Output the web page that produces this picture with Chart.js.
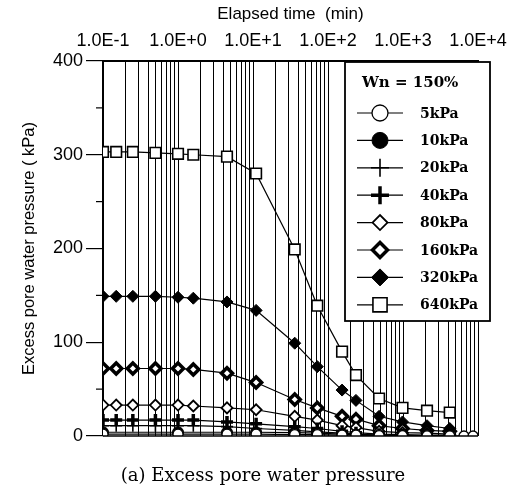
<!DOCTYPE html>
<html>
<head>
<meta charset="utf-8">
<script src="https://cdn.jsdelivr.net/npm/chart.js@4.4.1/dist/chart.umd.min.js"></script>
<style>
  body { margin: 0; background: #fff; }
  canvas { display: block; }
</style>
</head>
<body>
<canvas id="myChart" width="529" height="496"></canvas>
<script>
// elapsed time (min) and excess pore water pressure (kPa)
const times = [0.1, 0.15, 0.25, 0.5, 1, 1.6, 4.5, 11, 36, 72, 154, 236, 480, 985, 2090, 4200, 6500, 8600];
const loads = ['5kPa', '10kPa', '20kPa', '40kPa', '80kPa', '160kPa', '320kPa', '640kPa'];
const u5   = [2, null, null, null, 2, null, 2, 2, 1.5, 1.5, 1, 1, 0.5, 0.3, 0.2, 0.1, 0, 0];
const u10  = [4, null, null, null, 4, null, 4, 4, 3.5, 3, 2, 1.5, 1, 0.5, 0.5, 0.5, null, null];
const u20  = [11, 11, 11, 11, 11, 11, 10, 8, 6, 4.5, 3, 2, 1, 0.5, 0.5, 0.5, null, null];
const u40  = [17, 17, 17, 17, 17, 17, 15, 13, 10, 8, 5, 3.5, 2, 1.5, 1, 1, null, null];
const u80  = [33, 33, 33, 33, 33, 32, 30, 28, 21, 17, 11, 9, 5, 3.5, 3, 2, null, null];
const u160 = [72, 72, 72, 72, 72, 71, 67, 57, 39, 30, 21, 18, 11, 8, 6, 5, null, null];
const u320 = [149, 149, 149, 149, 148, 147, 143, 134, 99, 74, 49, 38, 21, 15, 11, 8, null, null];
const u640 = [303, 303, 303, 302, 301, 300, 298, 280, 199, 139, 90, 65, 40, 30, 27, 25, null, null];
const yTicks = [0, 100, 200, 300, 400];
const yMinorTicks = [50, 150, 250, 350];

const series = [u5, u10, u20, u40, u80, u160, u320, u640];
const markers = [
  { style: 'circle', r: 5, fill: '#fff', bw: 1.3, lr: 8 },
  { style: 'circle', r: 5.5, fill: '#000', bw: 1, lr: 8 },
  { style: 'cross', r: 6, fill: '#000', bw: 1.6, lr: 9 },
  { style: 'cross', r: 6, fill: '#000', bw: 3.5, lr: 9 },
  { style: 'rectRot', r: 5.5, fill: '#fff', bw: 1.8, lr: 7.5 },
  { style: 'rectRot', r: 5.5, fill: '#fff', bw: 3.5, lr: 7.5 },
  { style: 'rectRot', r: 6, fill: '#000', bw: 1, lr: 8.5 },
  { style: 'rect', r: 7.5, fill: '#fff', bw: 1.6, lr: 10 }
];

function toPoints(values) {
  return times.map((t, i) => ({ x: t, y: values[i] }));
}

const datasets = series.map((vals, i) => ({
  label: loads[i],
  data: toPoints(vals),
  borderColor: '#000',
  borderWidth: 1.2,
  backgroundColor: markers[i].fill,
  pointStyle: markers[i].style,
  pointRadius: markers[i].r,
  pointBorderWidth: markers[i].bw,
  pointBorderColor: '#000',
  pointBackgroundColor: markers[i].fill,
  spanGaps: true,
  tension: 0
}));

// frame bits, minor y ticks, legend box and caption
const extras = {
  id: 'extras',
  afterDatasetsDraw(chart) {
    const ctx = chart.ctx;
    const area = chart.chartArea;
    const y = chart.scales.y;
    ctx.save();
    ctx.strokeStyle = '#000';
    ctx.lineWidth = 1.5;
    ctx.beginPath();
    ctx.moveTo(area.left, area.bottom);
    ctx.lineTo(area.right, area.bottom);
    ctx.stroke();
    ctx.lineWidth = 1.2;
    yMinorTicks.forEach(v => {
      const py = y.getPixelForValue(v);
      ctx.beginPath();
      ctx.moveTo(area.left - 7, py);
      ctx.lineTo(area.left, py);
      ctx.stroke();
    });

    // legend
    const bx = 345, by = 62, bw = 145, bh = 259;
    ctx.fillStyle = '#fff';
    ctx.fillRect(bx, by, bw, bh);
    ctx.lineWidth = 1.8;
    ctx.strokeRect(bx, by, bw, bh);
    ctx.fillStyle = '#000';
    ctx.font = 'bold 15px "DejaVu Serif"';
    ctx.textBaseline = 'middle';
    ctx.textAlign = 'left';
    ctx.fillText('Wn = 150%', 362, 83);
    ctx.font = 'bold 14px "DejaVu Serif"';
    chart.data.datasets.forEach((ds, i) => {
      const ly = 113 + i * 27.4;
      ctx.strokeStyle = '#000';
      ctx.lineWidth = 1.2;
      ctx.beginPath();
      ctx.moveTo(357, ly);
      ctx.lineTo(403, ly);
      ctx.stroke();
      ctx.fillStyle = markers[i].fill;
      ctx.lineWidth = markers[i].bw;
      Chart.helpers.drawPoint(ctx, {
        pointStyle: markers[i].style,
        radius: markers[i].lr,
        rotation: 0,
        borderWidth: markers[i].bw
      }, 380, ly);
      ctx.fillStyle = '#000';
      ctx.fillText(ds.label, 420, ly + 1);
    });

    // caption
    ctx.font = '18px "DejaVu Serif"';
    ctx.textAlign = 'center';
    ctx.fillText('(a) Excess pore water pressure', 263, 476);
    ctx.restore();
  }
};

const ctx = document.getElementById('myChart').getContext('2d');
const chart = new Chart(ctx, {
  type: 'line',
  data: { datasets: datasets },
  plugins: [extras],
  options: {
    responsive: false,
    animation: false,
    layout: { padding: { left: 0, top: 0, right: 51, bottom: 60 } },
    plugins: {
      legend: { display: false },
      tooltip: { enabled: false }
    },
    scales: {
      x: {
        type: 'logarithmic',
        position: 'top',
        min: 0.1,
        max: 10000,
        afterFit: s => { s.height = 61; },
        afterBuildTicks: s => {
          const ticks = [];
          for (let e = -1; e <= 3; e++) {
            for (let m = 1; m <= 9; m++) ticks.push({ value: m * Math.pow(10, e) });
          }
          ticks.push({ value: 10000 });
          s.ticks = ticks;
        },
        ticks: {
          color: '#000',
          font: { family: '"Liberation Sans", Arial', size: 18 },
          padding: 9,
          maxRotation: 0,
          autoSkip: false,
          callback: v => {
            const e = Math.round(Math.log10(v));
            if (Math.abs(v - Math.pow(10, e)) > 1e-9 * Math.pow(10, e)) return '';
            return '1.0E' + (e < 0 ? '-' : '+') + Math.abs(e);
          }
        },
        grid: { color: '#000', lineWidth: 1, drawTicks: false },
        border: { color: '#000', width: 2 },
        title: {
          display: true,
          text: 'Elapsed time  (min)',
          color: '#000',
          font: { family: '"Liberation Sans", Arial', size: 17 },
          padding: { top: 4, bottom: 0 }
        }
      },
      y: {
        min: 0,
        max: 400,
        afterFit: s => { s.width = 103; },
        afterBuildTicks: s => { s.ticks = yTicks.map(v => ({ value: v })); },
        ticks: {
          color: '#000',
          font: { family: '"Liberation Sans", Arial', size: 18 },
          padding: 3
        },
        grid: { drawOnChartArea: false, color: '#000', tickLength: 17, lineWidth: 1.2 },
        border: { color: '#000', width: 2 },
        title: {
          display: true,
          text: 'Excess pore water pressure ( kPa)',
          color: '#000',
          font: { family: '"Liberation Sans", Arial', size: 16.5 },
          padding: { top: 20, bottom: 0 }
        }
      }
    }
  }
});
</script>
</body>
</html>
